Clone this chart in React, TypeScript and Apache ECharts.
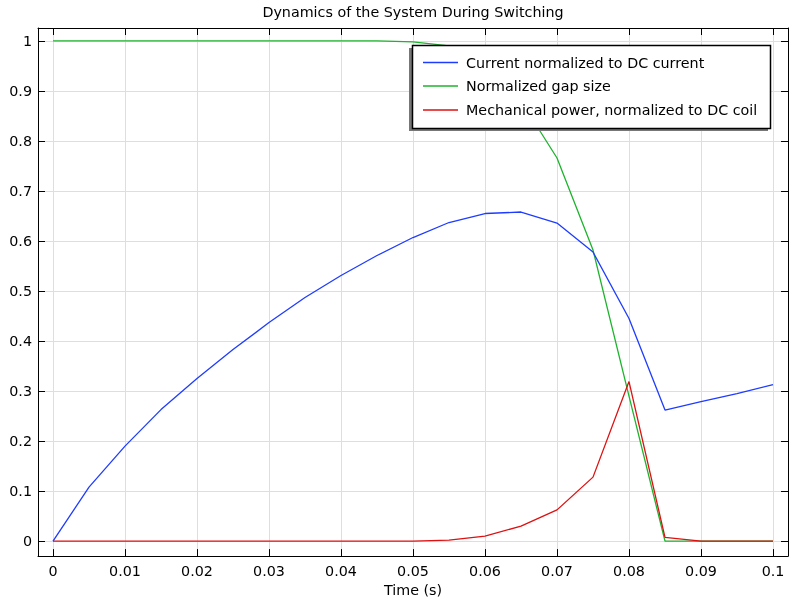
import React, { useEffect, useRef } from "react";
import * as echarts from "echarts";

const time = [0, 0.005, 0.01, 0.015, 0.02, 0.025, 0.03, 0.035, 0.04, 0.045, 0.05, 0.055, 0.06, 0.065, 0.07, 0.075, 0.08, 0.085, 0.09, 0.095, 0.1];
const current = [0, 0.108, 0.19, 0.263, 0.325, 0.383, 0.437, 0.487, 0.531, 0.571, 0.607, 0.637, 0.655, 0.658, 0.636, 0.578, 0.445, 0.262, 0.279, 0.295, 0.313];
const gap = [1, 1, 1, 1, 1, 1, 1, 1, 1, 1, 0.998, 0.99, 0.955, 0.88, 0.766, 0.582, 0.29, 0, 0, 0, 0];
const power = [0, 0, 0, 0, 0, 0, 0, 0, 0, 0, 0, 0.002, 0.01, 0.03, 0.0625, 0.128, 0.319, 0.0074, 0, 0, 0];
const xTicks = [0, 0.01, 0.02, 0.03, 0.04, 0.05, 0.06, 0.07, 0.08, 0.09, 0.1];
const yTicks = [0, 0.1, 0.2, 0.3, 0.4, 0.5, 0.6, 0.7, 0.8, 0.9, 1];
const seriesNames = ["Current normalized to DC current", "Normalized gap size", "Mechanical power, normalized to DC coil"];
const colors = ["#1e3cff", "#1db32d", "#dd1111"];

const FONT = "DejaVu Sans";
const FS = 14.3;

export default function App() {
  const ref = useRef<HTMLDivElement>(null);
  useEffect(() => {
    if (!ref.current) return;
    const chart = echarts.init(ref.current, null, { renderer: "svg" });
    const fmt = (v: number) => {
      const r = Math.round(v * 1000) / 1000;
      return String(r);
    };
    const tickStyle = { show: true, inside: true, length: 7, lineStyle: { color: "#000", width: 1 } };
    const xRange = { min: -0.0020833, max: 0.1020833 };
    const yRange = { min: -0.0299, max: 1.0259 };
    const mk = (vals: number[]) => vals.map((v, i) => [time[i], v]);
    const rowY = [62.5, 86, 110];
    const legendItems: any[] = [];
    seriesNames.forEach((name, i) => {
      legendItems.push({ type: "line", z: 60, shape: { x1: 423, y1: rowY[i], x2: 458, y2: rowY[i] }, style: { stroke: colors[i], lineWidth: 1.3 } });
      legendItems.push({ type: "text", z: 60, x: 466, y: rowY[i], style: { text: name, font: `${FS}px '${FONT}'`, fill: "#000", textAlign: "left", textVerticalAlign: "middle" } });
    });
    chart.setOption({
      animation: false,
      grid: { left: 38, top: 28, width: 750, height: 529, containLabel: false },
      graphic: [
        { type: "text", x: 413, y: 12, z: 10, style: { text: "Dynamics of the System During Switching", font: `${FS}px '${FONT}'`, fill: "#000", textAlign: "center", textVerticalAlign: "middle" } },
        { type: "rect", z: 50, shape: { x: 409, y: 48, width: 359, height: 83 }, style: { fill: "#777" } },
        { type: "rect", z: 51, shape: { x: 412.5, y: 45.5, width: 358, height: 83 }, style: { fill: "#fff", stroke: "#000", lineWidth: 1.5 } },
        ...legendItems,
      ],
      xAxis: [
        {
          type: "value", ...xRange, position: "bottom",
          name: "Time (s)", nameLocation: "middle", nameGap: 24,
          nameTextStyle: { fontFamily: FONT, fontSize: FS, color: "#000" },
          axisLine: { show: true, onZero: false, lineStyle: { color: "#000", width: 1 } },
          axisTick: { ...tickStyle, customValues: xTicks },
          axisLabel: { customValues: xTicks, formatter: fmt, fontFamily: FONT, fontSize: FS, color: "#000", margin: 8 },
          splitLine: { show: true, lineStyle: { color: "#dedede", width: 1 } },
        },
        {
          type: "value", ...xRange, position: "top",
          axisLine: { show: true, onZero: false, lineStyle: { color: "#000", width: 1 } },
          axisTick: { ...tickStyle, customValues: xTicks },
          axisLabel: { show: false, customValues: xTicks },
          splitLine: { show: false },
        },
      ],
      yAxis: [
        {
          type: "value", ...yRange, position: "left",
          axisLine: { show: true, onZero: false, lineStyle: { color: "#000", width: 1 } },
          axisTick: { ...tickStyle, customValues: yTicks },
          axisLabel: { customValues: yTicks, formatter: fmt, fontFamily: FONT, fontSize: FS, color: "#000", margin: 6 },
          splitLine: { show: true, lineStyle: { color: "#dedede", width: 1 } },
        },
        {
          type: "value", ...yRange, position: "right",
          axisLine: { show: true, onZero: false, lineStyle: { color: "#000", width: 1 } },
          axisTick: { ...tickStyle, customValues: yTicks },
          axisLabel: { show: false, customValues: yTicks },
          splitLine: { show: false },
        },
      ],
      series: [
        { name: seriesNames[0], type: "line", data: mk(current), symbol: "none", color: colors[0], lineStyle: { width: 1.3, color: colors[0] }, z: 4 },
        { name: seriesNames[1], type: "line", data: mk(gap), symbol: "none", color: colors[1], lineStyle: { width: 1.3, color: colors[1] }, z: 2 },
        { name: seriesNames[2], type: "line", data: mk(power), symbol: "none", color: colors[2], lineStyle: { width: 1.3, color: colors[2] }, z: 3 },
      ],
    });
    return () => chart.dispose();
  }, []);
  return <div ref={ref} style={{ position: "fixed", left: 0, top: 0, width: 789, height: 602 }} />;
}
